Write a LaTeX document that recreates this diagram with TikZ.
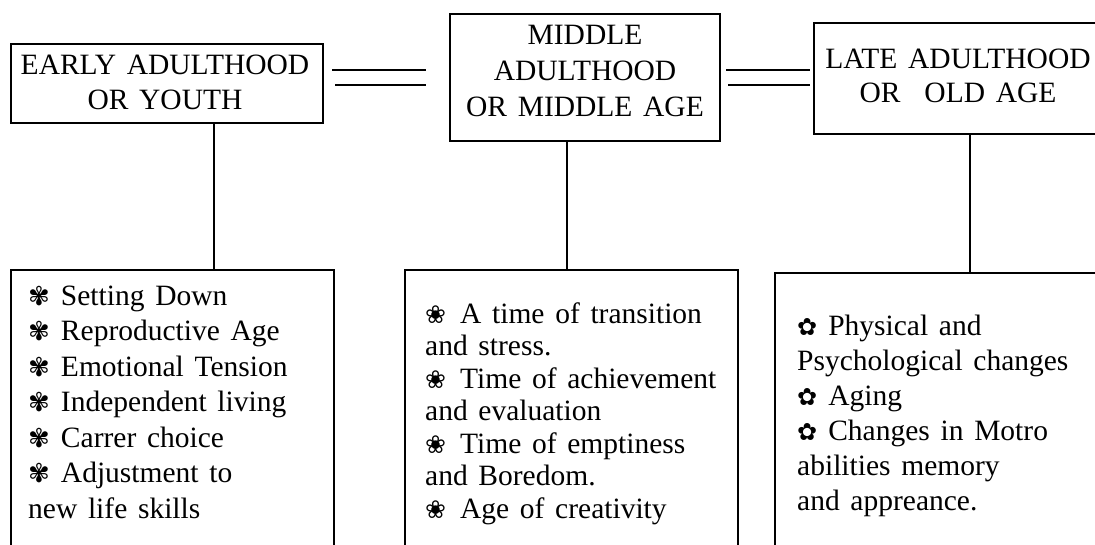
\documentclass[tikz,border=0pt]{standalone}
\usepackage{fontspec}
\setmainfont{Liberation Serif}[WordSpace=1.45]
\newfontfamily\dingfont{DejaVu Sans}
\usetikzlibrary{calc}
\newcommand\fl{\rule{0pt}{25pt}}
\newcommand\bA{{\dingfont\fontsize{26}{26}\selectfont ✾}\hspace{11pt}}
\newcommand\bB{{\dingfont\fontsize{25}{25}\selectfont ❀}\hspace{14pt}}
\newcommand\bC{{\dingfont\fontsize{24}{24}\selectfont ✿}\hspace{11pt}}
\tikzset{
  boxn/.style={draw, line width=1.5pt, inner sep=0pt, outer sep=0pt},
  openbox/.style={draw=none, inner sep=0pt, outer sep=0pt},
  frame/.style={line width=1.5pt},
  conn/.style={line width=1.5pt},
  dbl/.style={line width=2pt},
  title/.style={inner sep=0pt, anchor=north, align=center},
  items/.style={inner sep=0pt, anchor=north west, align=left}
}
\begin{document}
\begin{tikzpicture}[x=1pt,y=-1pt]
\useasboundingbox (0,0) rectangle (1095,545);
% top boxes
\node[boxn, minimum width=312, minimum height=79] (early) at (167,83.5) {};
\node[boxn, minimum width=270, minimum height=127] (middle) at (585,77.5) {};
\node[openbox, minimum width=281, minimum height=111] (late) at (954.5,78.5) {};
\draw[frame] (late.north east) -| (late.south west) -- (late.south east);
% bottom boxes
\node[openbox, minimum width=323, minimum height=275] (eb) at (172.5,407.5) {};
\node[openbox, minimum width=333, minimum height=275] (mb) at (571.5,407.5) {};
\node[openbox, minimum width=320, minimum height=272] (lb) at (935,409) {};
\draw[frame] (eb.south west) |- (eb.north east) -- (eb.south east);
\draw[frame] (mb.south west) |- (mb.north east) -- (mb.south east);
\draw[frame] (lb.south west) |- (lb.north east);
% titles
\node[title, font=\fontsize{29.5}{35}\selectfont] (earlyt) at (165,49) {\fl EARLY ADULTHOOD\\OR YOUTH};
\node[title, font=\fontsize{29.5}{36}\selectfont] (middlet) at (585,19) {\fl MIDDLE\\ADULTHOOD\\OR MIDDLE AGE};
\node[title, font=\fontsize{29.5}{34}\selectfont] (latet) at (958,43) {\fl LATE ADULTHOOD\\OR\hspace{0.45em} OLD AGE};
% items
\node[items, font=\fontsize{29.5}{35.5}\selectfont] (ebt) at (28,280) {\fl\bA Setting Down\\
\bA Reproductive Age\\
\bA Emotional Tension\\
\bA Independent living\\
\bA Carrer choice\\
\bA Adjustment to\\
new life skills};
\node[items, font=\fontsize{29.5}{32.5}\selectfont] (mbt) at (425,298) {\fl\bB A time of transition\\
and stress.\\
\bB Time of achievement\\
and evaluation\\
\bB Time of emptiness\\
and Boredom.\\
\bB Age of creativity};
\node[items, font=\fontsize{29.5}{35}\selectfont] (lbt) at (797,310) {\fl\bC Physical and\\
Psychological changes\\
\bC Aging\\
\bC Changes in Motro\\
abilities memory\\
and appreance.};
% vertical connectors
\coordinate (v1) at (214,0);
\coordinate (v2) at (567,0);
\coordinate (v3) at (970,0);
\draw[conn] (early.south -| v1) -- (eb.north -| v1);
\draw[conn] (middle.south -| v2) -- (mb.north -| v2);
\draw[conn] (late.south -| v3) -- (lb.north -| v3);
% double connectors
\draw[dbl] ($(early.east |- 0,70)+(9,0)$) -- ($(middle.west |- 0,70)+(-24,0)$);
\draw[dbl] ($(early.east |- 0,85)+(12,0)$) -- ($(middle.west |- 0,85)+(-24,0)$);
\draw[dbl] ($(middle.east |- 0,70)+(6,0)$) -- ($(late.west |- 0,70)+(-4,0)$);
\draw[dbl] ($(middle.east |- 0,85)+(8,0)$) -- ($(late.west |- 0,85)+(-4,0)$);
\end{tikzpicture}
\end{document}
